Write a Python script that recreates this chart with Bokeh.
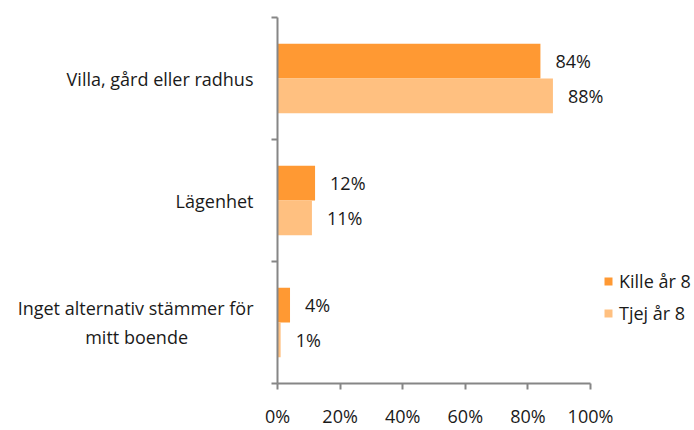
from bokeh.plotting import figure
from bokeh.models import (Range1d, FixedTicker, PrintfTickFormatter, ColumnDataSource,
                          LabelSet, Legend, LegendItem)
from bokeh.core.properties import value
from bokeh.embed import file_html
from bokeh.resources import INLINE

NB = "\u00a0"
categories = ["Villa, gård eller radhus", "Lägenhet",
              "Inget alternativ stämmer för\nmitt boende" + NB * 14]
series_names = ["Kille år 8", "Tjej år 8"]
kille = [84, 12, 4]
tjej = [88, 11, 1]
x_ticks = [0, 20, 40, 60, 80, 100]

colors = ["#FF9933", "#FFC080"]
FONT = "Open Sans"
FS = "18px"
TEXT_COLOR = "#1a1a1a"
AXIS_COLOR = "#868686"

W, H = 692, 430
LEFT, TOP, BOTTOM = 277, 17, 385
PX_PER_100 = 313
x_end = 100.0 * (W - LEFT) / PX_PER_100

p = figure(width=W, height=H, output_backend="svg", toolbar_location=None,
           x_range=Range1d(0, x_end), y_range=Range1d(2.5, -0.5),
           min_border_left=LEFT, min_border_right=0, min_border_top=TOP,
           min_border_bottom=H - BOTTOM)
p.outline_line_color = None
p.xgrid.visible = False
p.ygrid.visible = False
p.background_fill_color = "white"
p.border_fill_color = "white"

off = 0.1425
h = 0.285
idx = list(range(len(categories)))
src_k = ColumnDataSource(dict(y=[i - off for i in idx], v=kille, t=[f"{v}%" for v in kille]))
src_t = ColumnDataSource(dict(y=[i + off for i in idx], v=tjej, t=[f"{v}%" for v in tjej]))

rk = p.hbar(y="y", right="v", left=0, height=h, source=src_k, fill_color=colors[0], line_color=None)
rt = p.hbar(y="y", right="v", left=0, height=h, source=src_t, fill_color=colors[1], line_color=None)

for src in (src_k, src_t):
    p.add_layout(LabelSet(x="v", y="y", text="t", source=src, x_offset=15,
                          text_baseline="middle", text_align="left",
                          text_font=value(FONT), text_font_size=value(FS),
                          text_color=TEXT_COLOR))

# x axis
xa = p.xaxis[0]
xa.ticker = FixedTicker(ticks=x_ticks, minor_ticks=[])
xa.bounds = (0, 100)
xa.formatter = PrintfTickFormatter(format="%d%%")
xa.axis_line_color = AXIS_COLOR
xa.axis_line_width = 2
xa.major_tick_line_color = AXIS_COLOR
xa.major_tick_line_width = 2
xa.major_tick_in = 0
xa.major_tick_out = 6
xa.major_label_standoff = 14
xa.major_label_text_font = FONT
xa.major_label_text_font_size = FS
xa.major_label_text_color = TEXT_COLOR

# y axis
ya = p.yaxis[0]
ya.ticker = FixedTicker(ticks=idx, minor_ticks=[-0.5, 0.5, 1.5, 2.5])
ya.major_label_overrides = {i: c for i, c in enumerate(categories)}
ya.axis_line_color = AXIS_COLOR
ya.axis_line_width = 2
ya.major_tick_line_color = None
ya.major_tick_in = 0
ya.major_tick_out = 0
ya.minor_tick_line_color = AXIS_COLOR
ya.minor_tick_line_width = 2
ya.minor_tick_in = 0
ya.minor_tick_out = 6
ya.major_label_standoff = 18
ya.major_label_text_font = FONT
ya.major_label_text_font_size = FS
ya.major_label_text_color = TEXT_COLOR
ya.major_label_text_align = "right"

legend = Legend(items=[LegendItem(label=series_names[0], renderers=[rk]),
                       LegendItem(label=series_names[1], renderers=[rt])],
                location=(326, 58), glyph_width=10, glyph_height=10, label_height=20,
                spacing=8, padding=0, margin=0, label_standoff=6,
                border_line_color=None, background_fill_alpha=0,
                label_text_font=FONT, label_text_font_size=FS, label_text_color=TEXT_COLOR)
p.add_layout(legend, "center")

open("out.html", "w").write(file_html(p, INLINE))
